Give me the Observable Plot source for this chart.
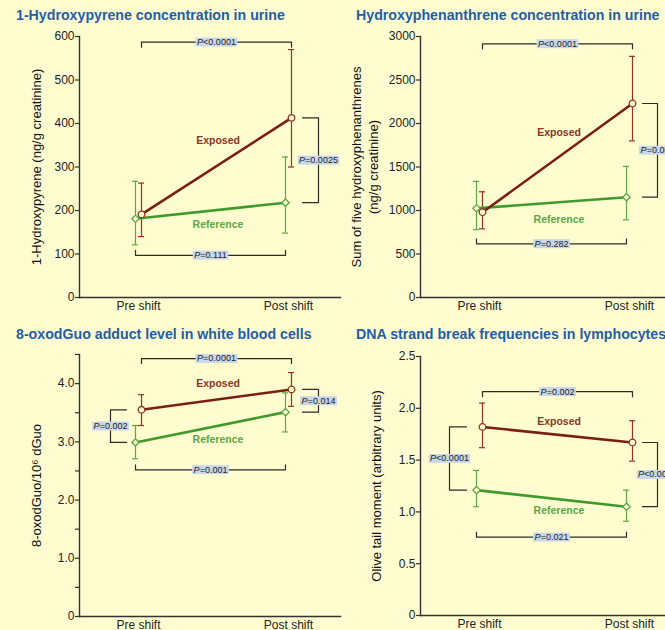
<!DOCTYPE html>
<html>
<head>
<meta charset="utf-8">
<script src="https://cdn.jsdelivr.net/npm/d3@7"></script>
<script src="https://cdn.jsdelivr.net/npm/@observablehq/plot@0.6"></script>
<style>
  html, body { margin: 0; padding: 0; background: #fffdd0; }
  #wrap { position: relative; width: 665px; height: 630px; overflow: hidden; background: #fffdd0;
          font-family: "Liberation Sans", Arial, Helvetica, sans-serif; }
  .title { position: absolute; font-weight: bold; font-size: 14.2px; line-height: 16px; color: #1f5ea8; white-space: nowrap; }
  .panel { position: absolute; }
</style>
</head>
<body>
<div id="wrap"></div>
<script>
// ---------- data ----------
const categories = ["Pre shift", "Post shift"];
const seriesNames = ["Reference", "Exposed"];
const panelTitles = [
  "1-Hydroxypyrene concentration in urine",
  "Hydroxyphenanthrene concentration in urine",
  "8-oxodGuo adduct level in white blood cells",
  "DNA strand break frequencies in lymphocytes"
];
const yAxisLabels = [
  "1-Hydroxypyrene (ng/g creatinine)",
  "Sum of five hydroxyphenanthrenes\n(ng/g creatinine)",
  "8-oxodGuo/10\u2076 dGuo",
  "Olive tail moment (arbitrary units)"
];

// 1-Hydroxypyrene
const pyreneExposed = [191, 413];
const pyreneExposedLow = [140, 300];
const pyreneExposedHigh = [263, 570];
const pyreneReference = [181, 218];
const pyreneReferenceLow = [121, 148];
const pyreneReferenceHigh = [267, 323];
// [exposed pre vs post, reference pre vs post, pre exposed vs reference, post exposed vs reference]
const pyreneP = ["P<0.0001", "P=0.111", null, "P=0.0025"];
const pyreneBracketLevels = [587, 97];
const pyreneTicks = [0, 100, 200, 300, 400, 500, 600];
const pyreneTickLabels = ["0", "100", "200", "300", "400", "500", "600"];

// Hydroxyphenanthrenes
const phenExposed = [980, 2230];
const phenExposedLow = [789, 1800];
const phenExposedHigh = [1215, 2772];
const phenReference = [1025, 1153];
const phenReferenceLow = [780, 893];
const phenReferenceHigh = [1335, 1507];
const phenP = ["P<0.0001", "P=0.282", null, "P=0.001"];
const phenBracketLevels = [2916, 617];
const phenTicks = [0, 500, 1000, 1500, 2000, 2500, 3000];
const phenTickLabels = ["0", "500", "1000", "1500", "2000", "2500", "3000"];

// 8-oxodGuo
const oxoExposed = [3.55, 3.90];
const oxoExposedLow = [3.28, 3.61];
const oxoExposedHigh = [3.81, 4.19];
const oxoReference = [2.99, 3.51];
const oxoReferenceLow = [2.71, 3.17];
const oxoReferenceHigh = [3.28, 3.84];
const oxoP = ["P=0.0001", "P=0.001", "P=0.002", "P=0.014"];
const oxoBracketLevels = [4.43, 2.52];
const oxoTicks = [0, 0.5, 1, 1.5, 2, 2.5, 3, 3.5, 4, 4.5];
const oxoTickLabels = ["0", "", "1.0", "", "2.0", "", "3.0", "", "4.0", ""];

// DNA strand breaks
const dnaExposed = [1.82, 1.67];
const dnaExposedLow = [1.62, 1.49];
const dnaExposedHigh = [2.05, 1.88];
const dnaReference = [1.21, 1.05];
const dnaReferenceLow = [1.05, 0.91];
const dnaReferenceHigh = [1.40, 1.21];
const dnaP = ["P=0.002", "P=0.021", "P<0.0001", "P<0.0001"];
const dnaBracketLevels = [2.16, 0.756];
const dnaTicks = [0, 0.5, 1, 1.5, 2, 2.5];
const dnaTickLabels = ["0", "0.5", "1.0", "1.5", "2.0", "2.5"];

// ---------- styling / layout ----------
const BG = "#fffdd0";
const FONT = "'Liberation Sans', Arial, Helvetica, sans-serif";
const COLORS = {
  Exposed: {line: "#7a1d12", bar: "#8e3526", text: "#8b3426"},
  Reference: {line: "#3f9a2b", bar: "#5aa845", text: "#5aa845"}
};
const AXIS = "#333333";

const panels = [
  {title: panelTitles[0], yLabel: yAxisLabels[0], yDomain: [0, 600], ticks: pyreneTicks, tickLabels: pyreneTickLabels,
   exposed: [pyreneExposed, pyreneExposedLow, pyreneExposedHigh],
   reference: [pyreneReference, pyreneReferenceLow, pyreneReferenceHigh],
   p: pyreneP, levels: pyreneBracketLevels,
   layout: {left: 0, top: 30, marginLeft: 79, marginTop: 6, marginBottom: 23, titleLeft: 16, titleTop: 7,
            yLabelDx: -44, exposedLabelY: 361, referenceLabelY: 168, rb: [14, 30]}},
  {title: panelTitles[1], yLabel: yAxisLabels[1], yDomain: [0, 3000], ticks: phenTicks, tickLabels: phenTickLabels,
   exposed: [phenExposed, phenExposedLow, phenExposedHigh],
   reference: [phenReference, phenReferenceLow, phenReferenceHigh],
   p: phenP, levels: phenBracketLevels,
   layout: {left: 340, top: 30, marginLeft: 80, marginTop: 6, marginBottom: 23, titleLeft: 356, titleTop: 7,
            yLabelDx: -56, exposedLabelY: 1897, referenceLabelY: 897, rb: [13, 28]}},
  {title: panelTitles[2], yLabel: yAxisLabels[2], yDomain: [0, 4.5], ticks: oxoTicks, tickLabels: oxoTickLabels,
   exposed: [oxoExposed, oxoExposedLow, oxoExposedHigh],
   reference: [oxoReference, oxoReferenceLow, oxoReferenceHigh],
   p: oxoP, levels: oxoBracketLevels,
   layout: {left: 0, top: 340, marginLeft: 79, marginTop: 14, marginBottom: 14, titleLeft: 16, titleTop: 326,
            yLabelDx: -44, exposedLabelY: 4.0, referenceLabelY: 3.04, rb: [14, 30], lb: [12, 28]}},
  {title: panelTitles[3], yLabel: yAxisLabels[3], yDomain: [0, 2.5], ticks: dnaTicks, tickLabels: dnaTickLabels,
   exposed: [dnaExposed, dnaExposedLow, dnaExposedHigh],
   reference: [dnaReference, dnaReferenceLow, dnaReferenceHigh],
   p: dnaP, levels: dnaBracketLevels,
   layout: {left: 340, top: 340, marginLeft: 80, marginTop: 16, marginBottom: 15, titleLeft: 356, titleTop: 326,
            yLabelDx: -45, exposedLabelY: 1.87, referenceLabelY: 1.01, rb: [13, 28], lb: [13, 30]}}
];

const wrap = document.getElementById("wrap");
const W = 340, H = 290, STEP = 150; // px between Pre and Post

function renderPanel(P) {
  const L = P.layout;
  const frameH = H - L.marginTop - L.marginBottom;
  const uy = (P.yDomain[1] - P.yDomain[0]) / frameH; // data units per pixel (y)
  const ux = 1 / STEP;                                 // data units per pixel (x)
  const off = 3 * ux;
  const tick = 5 * uy;

  const rows = [];
  [["Reference", P.reference, -1], ["Exposed", P.exposed, 1]].forEach(([name, s, sign]) => {
    categories.forEach((c, i) => rows.push({series: name, i, x: i + sign * off, mean: s[0][i], low: s[1][i], high: s[2][i]}));
  });
  const ex = P.exposed, rf = P.reference;

  const brackets = [], pLabels = [];
  // exposed pre vs post (top)
  brackets.push(...[[off, P.levels[0] - tick], [off, P.levels[0]], [1 + off, P.levels[0]], [1 + off, P.levels[0] - tick]]
    .map(([x, y]) => ({id: "top", x, y})));
  pLabels.push({x: 0.5 + off, y: P.levels[0], text: P.p[0]});
  // reference pre vs post (bottom)
  brackets.push(...[[-off, P.levels[1] + tick], [-off, P.levels[1]], [1 - off, P.levels[1]], [1 - off, P.levels[1] + tick]]
    .map(([x, y]) => ({id: "bottom", x, y})));
  pLabels.push({x: 0.5 - off, y: P.levels[1], text: P.p[1]});
  // pre: exposed vs reference (left)
  if (P.p[2]) {
    const a = -L.lb[0] * ux, b = -L.lb[1] * ux;
    brackets.push(...[[a, ex[0][0]], [b, ex[0][0]], [b, rf[0][0]], [a, rf[0][0]]].map(([x, y]) => ({id: "left", x, y})));
    pLabels.push({x: b, y: (ex[0][0] + rf[0][0]) / 2, text: P.p[2]});
  }
  // post: exposed vs reference (right)
  if (P.p[3]) {
    const a = 1 + L.rb[0] * ux, b = 1 + L.rb[1] * ux;
    brackets.push(...[[a, ex[0][1]], [b, ex[0][1]], [b, rf[0][1]], [a, rf[0][1]]].map(([x, y]) => ({id: "right", x, y})));
    pLabels.push({x: b, y: (ex[0][1] + rf[0][1]) / 2, text: P.p[3]});
  }

  const seriesLabels = [
    {series: "Exposed", x: 0.53, y: L.exposedLabelY},
    {series: "Reference", x: 0.53, y: L.referenceLabelY}
  ];

  const svg = Plot.plot({
    width: W, height: H,
    marginLeft: L.marginLeft, marginRight: 0, marginTop: L.marginTop, marginBottom: L.marginBottom,
    style: {background: "none", fontFamily: FONT, overflow: "visible"},
    x: {domain: [0, 1], range: [L.marginLeft + 59, L.marginLeft + 209]},
    y: {domain: P.yDomain},
    marks: [
      Plot.frame({anchor: "left", stroke: AXIS, strokeWidth: 1.4}),
      Plot.frame({anchor: "bottom", stroke: AXIS, strokeWidth: 1.4}),
      Plot.axisY({ticks: P.ticks, tickFormat: d => P.tickLabels[P.ticks.indexOf(d)], tickSize: 4, tickPadding: 1,
                  fontSize: 12, stroke: AXIS, color: "#222", label: null, strokeWidth: 1.2}),
      Plot.axisX({ticks: [0, 1], tickFormat: d => categories[d], tickSize: 0, tickPadding: 4,
                  fontSize: 12, color: "#222", label: null}),
      Plot.line(brackets, {x: "x", y: "y", z: "id", stroke: "#2a2a2a", strokeWidth: 1.2}),
      Plot.ruleX(rows, {x: "x", y1: "low", y2: "high", stroke: d => COLORS[d.series].bar, strokeWidth: 1.2}),
      Plot.ruleY(rows, {y: "low", x1: d => d.x - 3 * ux, x2: d => d.x + 3 * ux, stroke: d => COLORS[d.series].bar, strokeWidth: 1.2}),
      Plot.ruleY(rows, {y: "high", x1: d => d.x - 3 * ux, x2: d => d.x + 3 * ux, stroke: d => COLORS[d.series].bar, strokeWidth: 1.2}),
      Plot.line(rows, {x: "x", y: "mean", z: "series", stroke: d => COLORS[d.series].line, strokeWidth: 2.6}),
      Plot.dot(rows, {x: "x", y: "mean", symbol: d => d.series === "Exposed" ? "circle" : "diamond2",
                      r: 3.3, fill: BG, stroke: d => COLORS[d.series].bar, strokeWidth: 1.3}),
      Plot.text(seriesLabels, {x: "x", y: "y", text: "series", fill: d => COLORS[d.series].text,
                               fontWeight: "bold", fontSize: 10.5}),
      Plot.text(pLabels, {x: "x", y: "y", text: "text", fontSize: 9, fill: "#222", className: "plabel"}),
      Plot.text([P.yLabel], {frameAnchor: "left", textAnchor: "middle", lineAnchor: "middle", rotate: -90,
                             dx: L.yLabelDx, fontSize: 13, fill: "#111", lineHeight: 1.3})
    ]
  });
  svg.classList.add("panel");
  svg.style.left = L.left + "px";
  svg.style.top = L.top + "px";
  wrap.appendChild(svg);

  // light-blue boxes behind the P-values, italic "P"
  const texts = svg.querySelectorAll(".plabel text, text.plabel");
  texts.forEach(t => {
    const s = t.textContent;
    t.textContent = "";
    const ns = "http://www.w3.org/2000/svg";
    const t1 = document.createElementNS(ns, "tspan");
    t1.setAttribute("font-style", "italic");
    t1.textContent = s[0];
    const t2 = document.createElementNS(ns, "tspan");
    t2.textContent = s.slice(1);
    t.appendChild(t1); t.appendChild(t2);
    const b = t.getBBox();
    const r = document.createElementNS(ns, "rect");
    r.setAttribute("x", b.x - 1.5);
    r.setAttribute("y", b.y + 0.5);
    r.setAttribute("width", b.width + 3);
    r.setAttribute("height", b.height - 1);
    r.setAttribute("fill", "#c9d7e9");
    if (t.getAttribute("transform")) r.setAttribute("transform", t.getAttribute("transform"));
    t.parentNode.insertBefore(r, t);
  });

  const title = document.createElement("div");
  title.className = "title";
  title.textContent = P.title;
  title.style.left = L.titleLeft + "px";
  title.style.top = L.titleTop + "px";
  wrap.appendChild(title);
}

panels.forEach(renderPanel);
</script>
</body>
</html>
